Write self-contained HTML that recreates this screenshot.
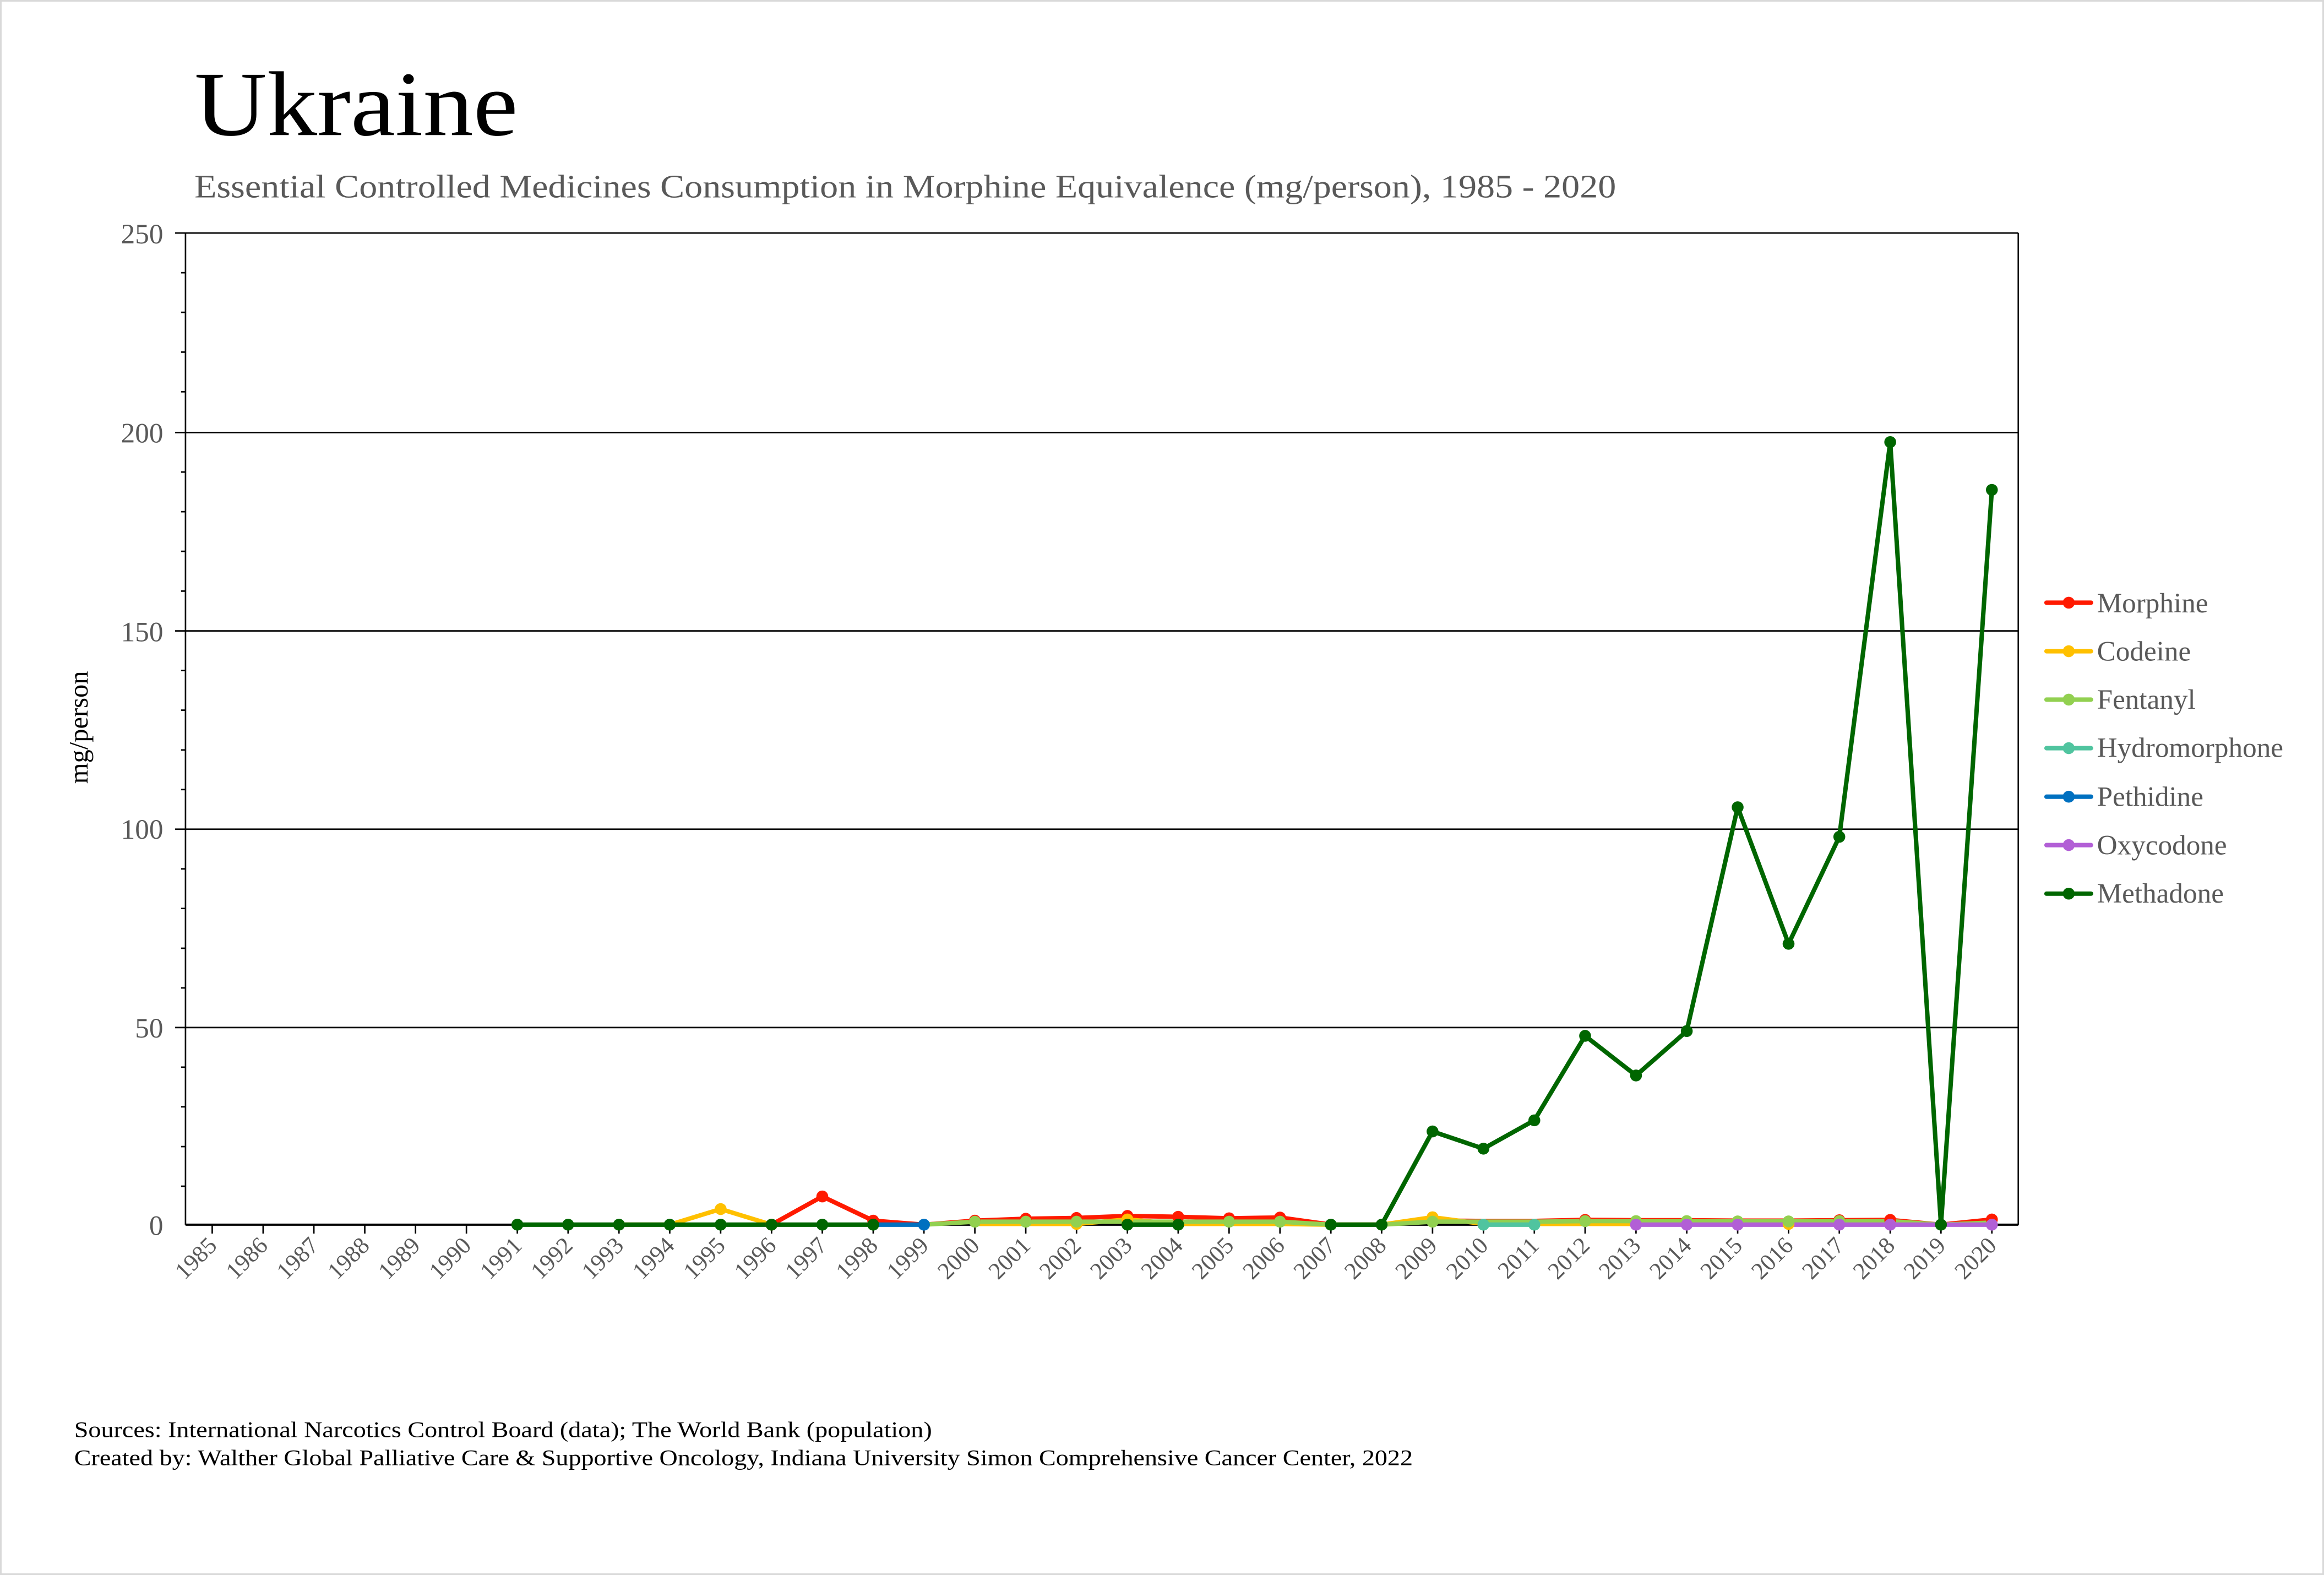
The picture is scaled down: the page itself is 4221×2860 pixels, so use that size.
<!DOCTYPE html>
<html><head><meta charset="utf-8"><style>html,body{margin:0;padding:0;background:#fff}svg{display:block}</style></head><body>
<svg width="4221" height="2860" viewBox="0 0 1566 1061" preserveAspectRatio="none" xmlns="http://www.w3.org/2000/svg" font-family="Liberation Serif, serif">
<rect x="0.5" y="0.5" width="1565" height="1060" fill="#fff" stroke="#d9d9d9" stroke-width="1.2"/>
<text x="131" y="91" font-size="62" fill="#000" textLength="218" lengthAdjust="spacingAndGlyphs">Ukraine</text>
<text x="131" y="133" font-size="22" fill="#595959" textLength="958" lengthAdjust="spacingAndGlyphs">Essential Controlled Medicines Consumption in Morphine Equivalence (mg/person), 1985 - 2020</text>
<g stroke="#000" stroke-width="1">
<line x1="125" y1="157" x2="1360" y2="157"/>
<line x1="125" y1="291.4" x2="1360" y2="291.4"/>
<line x1="125" y1="425" x2="1360" y2="425"/>
<line x1="125" y1="558.6" x2="1360" y2="558.6"/>
<line x1="125" y1="692.2" x2="1360" y2="692.2"/>
<line x1="1360" y1="157" x2="1360" y2="825"/>
<line x1="125" y1="157" x2="125" y2="825"/>
</g>
<g stroke="#000" stroke-width="1">
<line x1="118" y1="157" x2="125" y2="157"/><line x1="118" y1="291.4" x2="125" y2="291.4"/><line x1="118" y1="425" x2="125" y2="425"/><line x1="118" y1="558.6" x2="125" y2="558.6"/><line x1="118" y1="692.2" x2="125" y2="692.2"/>
<line x1="122" y1="183.7" x2="125" y2="183.7"/><line x1="122" y1="210.4" x2="125" y2="210.4"/><line x1="122" y1="237.2" x2="125" y2="237.2"/><line x1="122" y1="263.9" x2="125" y2="263.9"/>
<line x1="122" y1="318" x2="125" y2="318"/><line x1="122" y1="344.7" x2="125" y2="344.7"/><line x1="122" y1="371.4" x2="125" y2="371.4"/><line x1="122" y1="398.2" x2="125" y2="398.2"/>
<line x1="122" y1="451.7" x2="125" y2="451.7"/><line x1="122" y1="478.4" x2="125" y2="478.4"/><line x1="122" y1="505.2" x2="125" y2="505.2"/><line x1="122" y1="531.9" x2="125" y2="531.9"/>
<line x1="122" y1="585.3" x2="125" y2="585.3"/><line x1="122" y1="612" x2="125" y2="612"/><line x1="122" y1="638.8" x2="125" y2="638.8"/><line x1="122" y1="665.5" x2="125" y2="665.5"/>
<line x1="122" y1="718.9" x2="125" y2="718.9"/><line x1="122" y1="745.6" x2="125" y2="745.6"/><line x1="122" y1="772.4" x2="125" y2="772.4"/><line x1="122" y1="799.1" x2="125" y2="799.1"/>
</g>
<g font-size="19" fill="#595959" text-anchor="end">
<text x="110" y="164">250</text><text x="110" y="298">200</text><text x="110" y="432">150</text><text x="110" y="565">100</text><text x="110" y="699">50</text><text x="110" y="832">0</text>
</g>
<text transform="translate(59,490) rotate(-90)" font-size="18" fill="#000" text-anchor="middle">mg/person</text>
<g stroke="#000" stroke-width="1">
<line x1="143" y1="825" x2="143" y2="831"/><line x1="177.3" y1="825" x2="177.3" y2="831"/><line x1="211.5" y1="825" x2="211.5" y2="831"/><line x1="245.8" y1="825" x2="245.8" y2="831"/><line x1="280" y1="825" x2="280" y2="831"/><line x1="314.3" y1="825" x2="314.3" y2="831"/><line x1="348.6" y1="825" x2="348.6" y2="831"/><line x1="382.8" y1="825" x2="382.8" y2="831"/><line x1="417.1" y1="825" x2="417.1" y2="831"/><line x1="451.3" y1="825" x2="451.3" y2="831"/><line x1="485.6" y1="825" x2="485.6" y2="831"/><line x1="519.9" y1="825" x2="519.9" y2="831"/><line x1="554.1" y1="825" x2="554.1" y2="831"/><line x1="588.4" y1="825" x2="588.4" y2="831"/><line x1="622.6" y1="825" x2="622.6" y2="831"/><line x1="656.9" y1="825" x2="656.9" y2="831"/><line x1="691.2" y1="825" x2="691.2" y2="831"/><line x1="725.4" y1="825" x2="725.4" y2="831"/><line x1="759.7" y1="825" x2="759.7" y2="831"/><line x1="793.9" y1="825" x2="793.9" y2="831"/><line x1="828.2" y1="825" x2="828.2" y2="831"/><line x1="862.5" y1="825" x2="862.5" y2="831"/><line x1="896.8" y1="825" x2="896.8" y2="831"/><line x1="931" y1="825" x2="931" y2="831"/><line x1="965.3" y1="825" x2="965.3" y2="831"/><line x1="999.6" y1="825" x2="999.6" y2="831"/><line x1="1033.9" y1="825" x2="1033.9" y2="831"/><line x1="1068.1" y1="825" x2="1068.1" y2="831"/><line x1="1102.4" y1="825" x2="1102.4" y2="831"/><line x1="1136.6" y1="825" x2="1136.6" y2="831"/><line x1="1170.9" y1="825" x2="1170.9" y2="831"/><line x1="1205.2" y1="825" x2="1205.2" y2="831"/><line x1="1239.4" y1="825" x2="1239.4" y2="831"/><line x1="1273.7" y1="825" x2="1273.7" y2="831"/><line x1="1307.9" y1="825" x2="1307.9" y2="831"/><line x1="1342.2" y1="825" x2="1342.2" y2="831"/>
</g>
<g font-size="16" fill="#595959" text-anchor="end">
<text transform="translate(147,840) rotate(-45)">1985</text><text transform="translate(181.3,840) rotate(-45)">1986</text><text transform="translate(215.5,840) rotate(-45)">1987</text><text transform="translate(249.8,840) rotate(-45)">1988</text><text transform="translate(284,840) rotate(-45)">1989</text><text transform="translate(318.3,840) rotate(-45)">1990</text><text transform="translate(352.6,840) rotate(-45)">1991</text><text transform="translate(386.8,840) rotate(-45)">1992</text><text transform="translate(421.1,840) rotate(-45)">1993</text><text transform="translate(455.3,840) rotate(-45)">1994</text><text transform="translate(489.6,840) rotate(-45)">1995</text><text transform="translate(523.9,840) rotate(-45)">1996</text><text transform="translate(558.1,840) rotate(-45)">1997</text><text transform="translate(592.4,840) rotate(-45)">1998</text><text transform="translate(626.6,840) rotate(-45)">1999</text><text transform="translate(660.9,840) rotate(-45)">2000</text><text transform="translate(695.2,840) rotate(-45)">2001</text><text transform="translate(729.4,840) rotate(-45)">2002</text><text transform="translate(763.7,840) rotate(-45)">2003</text><text transform="translate(797.9,840) rotate(-45)">2004</text><text transform="translate(832.2,840) rotate(-45)">2005</text><text transform="translate(866.5,840) rotate(-45)">2006</text><text transform="translate(900.8,840) rotate(-45)">2007</text><text transform="translate(935,840) rotate(-45)">2008</text><text transform="translate(969.3,840) rotate(-45)">2009</text><text transform="translate(1003.6,840) rotate(-45)">2010</text><text transform="translate(1037.9,840) rotate(-45)">2011</text><text transform="translate(1072.1,840) rotate(-45)">2012</text><text transform="translate(1106.4,840) rotate(-45)">2013</text><text transform="translate(1140.6,840) rotate(-45)">2014</text><text transform="translate(1174.9,840) rotate(-45)">2015</text><text transform="translate(1209.2,840) rotate(-45)">2016</text><text transform="translate(1243.4,840) rotate(-45)">2017</text><text transform="translate(1277.7,840) rotate(-45)">2018</text><text transform="translate(1311.9,840) rotate(-45)">2019</text><text transform="translate(1346.2,840) rotate(-45)">2020</text>
</g>
<line x1="125" y1="825" x2="1360" y2="825" stroke="#000" stroke-width="1.5"/>
<g fill="none" stroke-width="3" stroke-linejoin="round">
<polyline stroke="#ff1a00" points="519.9,825 554.1,806 588.4,822.3 622.6,825 656.9,822.3 691.2,821 725.4,820.5 759.7,819.1 793.9,819.7 828.2,820.7 862.5,820.2 896.8,825 931,825 965.3,822.3 999.6,822.5 1033.9,822.5 1068.1,821.8 1102.4,822 1136.6,822 1170.9,822.3 1205.2,822.3 1239.4,822 1273.7,821.8 1307.9,825 1342.2,821.5"/>
<polyline stroke="#ffc000" points="417.1,825 451.3,825 485.6,814.5 519.9,825"/>
<polyline stroke="#ffc000" points="656.9,824.5 691.2,824.5 725.4,824.5 759.7,821.5 793.9,824.5 828.2,824.5 862.5,824.5 896.8,825 931,825 965.3,820 999.6,824.5 1033.9,824.5 1068.1,824.5 1102.4,824.5 1136.6,824.5 1170.9,824.5 1205.2,824.5 1239.4,824.5 1273.7,824.5"/>
<polyline stroke="#92d050" points="622.6,825 656.9,823 691.2,823 725.4,823 759.7,823 793.9,823 828.2,823 862.5,823 896.8,825 931,825 965.3,823 999.6,823 1033.9,823 1068.1,822.6 1102.4,822.6 1136.6,822.6 1170.9,822.8 1205.2,822.8 1239.4,822.6 1273.7,822.6 1307.9,825 1342.2,823.6"/>
<polyline stroke="#50c49f" points="999.6,825 1033.9,825"/>
<polyline stroke="#0070c0" points="588.4,825 622.6,825"/>
<polyline stroke="#b25fd6" points="1102.4,825 1136.6,825 1170.9,825 1205.2,825 1239.4,825 1273.7,825 1307.9,825 1342.2,825"/>
<polyline stroke="#006600" points="348.6,825 382.8,825 417.1,825 451.3,825 485.6,825 519.9,825 554.1,825 588.4,825"/>
<polyline stroke="#006600" points="759.7,825 793.9,825"/>
<polyline stroke="#006600" points="896.8,825 931,825 965.3,762.2 999.6,773.8 1033.9,754.7 1068.1,697.8 1102.4,724.5 1136.6,694.6 1170.9,543.8 1205.2,635.8 1239.4,563.7 1273.7,297.8 1307.9,825 1342.2,330"/>
</g>
<g fill="#ff1a00"><circle cx="519.9" cy="825" r="4"/><circle cx="554.1" cy="806" r="4"/><circle cx="588.4" cy="822.3" r="4"/><circle cx="656.9" cy="822.3" r="4"/><circle cx="691.2" cy="821" r="4"/><circle cx="725.4" cy="820.5" r="4"/><circle cx="759.7" cy="819.1" r="4"/><circle cx="793.9" cy="819.7" r="4"/><circle cx="828.2" cy="820.7" r="4"/><circle cx="862.5" cy="820.2" r="4"/><circle cx="1068.1" cy="821.8" r="4"/><circle cx="1239.4" cy="822" r="4"/><circle cx="1273.7" cy="821.8" r="4"/><circle cx="1342.2" cy="821.5" r="4"/></g>
<g fill="#ffc000"><circle cx="485.6" cy="814.5" r="4"/><circle cx="965.3" cy="820" r="4"/><circle cx="759.7" cy="821.5" r="4"/><circle cx="725.4" cy="824.5" r="4"/><circle cx="1205.2" cy="824.5" r="4"/></g>
<g fill="#92d050"><circle cx="656.9" cy="823" r="4"/><circle cx="691.2" cy="823" r="4"/><circle cx="725.4" cy="823" r="4"/><circle cx="828.2" cy="823" r="4"/><circle cx="862.5" cy="823" r="4"/><circle cx="965.3" cy="823" r="4"/><circle cx="1068.1" cy="822.6" r="4"/><circle cx="1102.4" cy="822.6" r="4"/><circle cx="1136.6" cy="822.6" r="4"/><circle cx="1170.9" cy="822.8" r="4"/><circle cx="1205.2" cy="822.8" r="4"/><circle cx="1239.4" cy="822.6" r="4"/></g>
<g fill="#50c49f"><circle cx="999.6" cy="825" r="4"/><circle cx="1033.9" cy="825" r="4"/></g>
<g fill="#0070c0"><circle cx="622.6" cy="825" r="4"/></g>
<g fill="#b25fd6"><circle cx="1102.4" cy="825" r="4"/><circle cx="1136.6" cy="825" r="4"/><circle cx="1170.9" cy="825" r="4"/><circle cx="1239.4" cy="825" r="4"/><circle cx="1273.7" cy="825" r="4"/><circle cx="1342.2" cy="825" r="4"/></g>
<g fill="#006600"><circle cx="348.6" cy="825" r="4"/><circle cx="382.8" cy="825" r="4"/><circle cx="417.1" cy="825" r="4"/><circle cx="451.3" cy="825" r="4"/><circle cx="485.6" cy="825" r="4"/><circle cx="519.9" cy="825" r="4"/><circle cx="554.1" cy="825" r="4"/><circle cx="588.4" cy="825" r="4"/><circle cx="759.7" cy="825" r="4"/><circle cx="793.9" cy="825" r="4"/><circle cx="896.8" cy="825" r="4"/><circle cx="931" cy="825" r="4"/><circle cx="965.3" cy="762.2" r="4"/><circle cx="999.6" cy="773.8" r="4"/><circle cx="1033.9" cy="754.7" r="4"/><circle cx="1068.1" cy="697.8" r="4"/><circle cx="1102.4" cy="724.5" r="4"/><circle cx="1136.6" cy="694.6" r="4"/><circle cx="1170.9" cy="543.8" r="4"/><circle cx="1205.2" cy="635.8" r="4"/><circle cx="1239.4" cy="563.7" r="4"/><circle cx="1273.7" cy="297.8" r="4"/><circle cx="1307.9" cy="825" r="4"/><circle cx="1342.2" cy="330" r="4"/></g>
<g stroke-width="3" stroke-linecap="round">
<line x1="1379" y1="406" x2="1409" y2="406" stroke="#ff1a00"/><circle cx="1394" cy="406" r="4" fill="#ff1a00"/>
<line x1="1379" y1="438.7" x2="1409" y2="438.7" stroke="#ffc000"/><circle cx="1394" cy="438.7" r="4" fill="#ffc000"/>
<line x1="1379" y1="471.3" x2="1409" y2="471.3" stroke="#92d050"/><circle cx="1394" cy="471.3" r="4" fill="#92d050"/>
<line x1="1379" y1="504" x2="1409" y2="504" stroke="#50c49f"/><circle cx="1394" cy="504" r="4" fill="#50c49f"/>
<line x1="1379" y1="536.7" x2="1409" y2="536.7" stroke="#0070c0"/><circle cx="1394" cy="536.7" r="4" fill="#0070c0"/>
<line x1="1379" y1="569.3" x2="1409" y2="569.3" stroke="#b25fd6"/><circle cx="1394" cy="569.3" r="4" fill="#b25fd6"/>
<line x1="1379" y1="602" x2="1409" y2="602" stroke="#006600"/><circle cx="1394" cy="602" r="4" fill="#006600"/>
</g>
<g font-size="19" fill="#595959">
<text x="1413" y="412.5">Morphine</text><text x="1413" y="445">Codeine</text><text x="1413" y="477.5">Fentanyl</text><text x="1413" y="510">Hydromorphone</text><text x="1413" y="543">Pethidine</text><text x="1413" y="575.5">Oxycodone</text><text x="1413" y="608">Methadone</text>
</g>
<g font-size="15" fill="#000">
<text x="50" y="968" textLength="578" lengthAdjust="spacingAndGlyphs">Sources: International Narcotics Control Board (data); The World Bank (population)</text>
<text x="50" y="987" textLength="902" lengthAdjust="spacingAndGlyphs">Created by: Walther Global Palliative Care &amp; Supportive Oncology, Indiana University Simon Comprehensive Cancer Center, 2022</text>
</g>
</svg>
</body></html>
